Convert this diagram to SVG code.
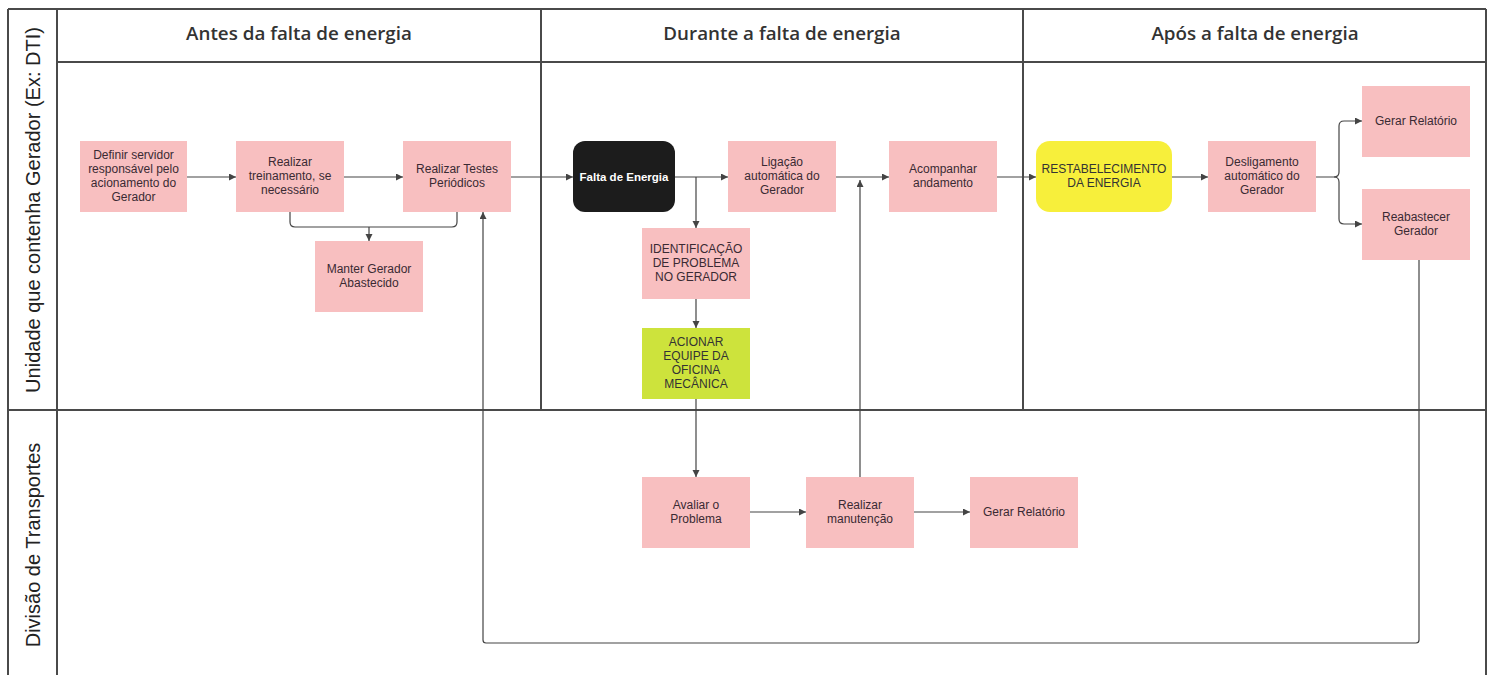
<svg xmlns="http://www.w3.org/2000/svg" width="1491" height="675" viewBox="0 0 1491 675">
<defs>
<style>
.lane{fill:none;stroke:#4a4a4a;stroke-width:2}
.hdr{font-family:"Open Sans","DejaVu Sans",sans-serif;font-weight:600;font-size:18.8px;fill:#333;text-anchor:middle}
.lbl{font-family:"Liberation Sans",Arial,sans-serif;font-size:20px;fill:#222;text-anchor:middle}
.pink{fill:#f8bfc0}
.t{font-family:"Liberation Sans",Arial,sans-serif;font-size:12px;fill:#3a2a33;text-anchor:middle}
.c{fill:none;stroke:#444;stroke-width:1.2}
</style>
<marker id="ah" markerUnits="userSpaceOnUse" markerWidth="8" markerHeight="8" refX="7" refY="3.5" orient="auto">
<path d="M0,0 L7,3.5 L0,7 z" fill="#444"/>
</marker>
</defs>
<rect width="1491" height="675" fill="#fff"/>

<g id="pool">
<line class="lane" x1="8" y1="9" x2="1486" y2="9"/>
<line class="lane" x1="8" y1="9" x2="8" y2="680"/>
<line class="lane" x1="57" y1="9" x2="57" y2="680"/>
<line class="lane" x1="1486" y1="9" x2="1486" y2="680"/>
<line class="lane" x1="57" y1="62" x2="1486" y2="62"/>
<line class="lane" x1="8" y1="410" x2="1486" y2="410"/>
<line class="lane" x1="541" y1="9" x2="541" y2="410"/>
<line class="lane" x1="1023" y1="9" x2="1023" y2="410"/>
<text class="hdr" x="299" y="40">Antes da falta de energia</text>
<text class="hdr" x="782" y="40">Durante a falta de energia</text>
<text class="hdr" x="1255" y="40">Após a falta de energia</text>
<text class="lbl" transform="translate(40,210) rotate(-90)">Unidade que contenha Gerador (Ex: DTI)</text>
<text class="lbl" transform="translate(40,545) rotate(-90)">Divisão de Transportes</text>
</g>

<g id="connectors">
<line class="c" x1="187" y1="177" x2="236" y2="177" marker-end="url(#ah)"/>
<line class="c" x1="344" y1="177" x2="403" y2="177" marker-end="url(#ah)"/>
<path class="c" d="M290,212 V222 Q290,227 295,227 H452 Q457,227 457,222 V212"/>
<line class="c" x1="369" y1="227" x2="369" y2="241" marker-end="url(#ah)"/>
<line class="c" x1="511" y1="177" x2="573" y2="177" marker-end="url(#ah)"/>
<line class="c" x1="675" y1="177" x2="728" y2="177" marker-end="url(#ah)"/>
<line class="c" x1="696" y1="177" x2="696" y2="228" marker-end="url(#ah)"/>
<line class="c" x1="696" y1="299" x2="696" y2="328" marker-end="url(#ah)"/>
<line class="c" x1="696" y1="399" x2="696" y2="477" marker-end="url(#ah)"/>
<line class="c" x1="750" y1="512" x2="806" y2="512" marker-end="url(#ah)"/>
<line class="c" x1="914" y1="512" x2="970" y2="512" marker-end="url(#ah)"/>
<line class="c" x1="860" y1="477" x2="860" y2="180" marker-end="url(#ah)"/>
<line class="c" x1="836" y1="177" x2="889" y2="177" marker-end="url(#ah)"/>
<line class="c" x1="997" y1="177" x2="1036" y2="177" marker-end="url(#ah)"/>
<line class="c" x1="1172" y1="177" x2="1208" y2="177" marker-end="url(#ah)"/>
<path class="c" d="M1316,177 H1334 Q1339,177 1339,172 V126 Q1339,121 1344,121 H1362" marker-end="url(#ah)"/>
<path class="c" d="M1334,177 Q1339,177 1339,182 V219 Q1339,224 1344,224 H1362" marker-end="url(#ah)"/>
<path class="c" d="M1419,260 V640 Q1419,643 1416,643 H486 Q483,643 483,640 V212" marker-end="url(#ah)"/>
</g>

<g id="n-definir"><rect class="pink" x="80" y="141" width="107" height="71"/>
<text class="t" x="133.5" y="159">Definir servidor</text><text class="t" x="133.5" y="173">responsável pelo</text><text class="t" x="133.5" y="187">acionamento do</text><text class="t" x="133.5" y="201">Gerador</text></g>
<g id="n-treinamento"><rect class="pink" x="236" y="141" width="108" height="71"/>
<text class="t" x="290" y="166">Realizar</text><text class="t" x="290" y="180">treinamento, se</text><text class="t" x="290" y="194">necessário</text></g>
<g id="n-testes"><rect class="pink" x="403" y="141" width="108" height="71"/>
<text class="t" x="457" y="173">Realizar Testes</text><text class="t" x="457" y="187">Periódicos</text></g>
<g id="n-manter"><rect class="pink" x="315" y="241" width="108" height="71"/>
<text class="t" x="369" y="273">Manter Gerador</text><text class="t" x="369" y="287">Abastecido</text></g>
<g id="n-falta"><rect x="573" y="141" width="102" height="71" rx="12" fill="#1c1c1c"/>
<text class="t" x="624" y="181" style="fill:#fff;font-weight:bold;font-size:11.5px">Falta de Energia</text></g>
<g id="n-ligacao"><rect class="pink" x="728" y="141" width="108" height="71"/>
<text class="t" x="782" y="166">Ligação</text><text class="t" x="782" y="180">automática do</text><text class="t" x="782" y="194">Gerador</text></g>
<g id="n-acompanhar"><rect class="pink" x="889" y="141" width="108" height="71"/>
<text class="t" x="943" y="173">Acompanhar</text><text class="t" x="943" y="187">andamento</text></g>
<g id="n-restab"><rect x="1036" y="141" width="136" height="71" rx="14" fill="#f7ef3b"/>
<text class="t" x="1104" y="173" style="fill:#333">RESTABELECIMENTO</text><text class="t" x="1104" y="187" style="fill:#333">DA ENERGIA</text></g>
<g id="n-desligamento"><rect class="pink" x="1208" y="141" width="108" height="71"/>
<text class="t" x="1262" y="166">Desligamento</text><text class="t" x="1262" y="180">automático do</text><text class="t" x="1262" y="194">Gerador</text></g>
<g id="n-relatorio1"><rect class="pink" x="1362" y="86" width="108" height="71"/>
<text class="t" x="1416" y="125">Gerar Relatório</text></g>
<g id="n-reabastecer"><rect class="pink" x="1362" y="189" width="108" height="71"/>
<text class="t" x="1416" y="221">Reabastecer</text><text class="t" x="1416" y="235">Gerador</text></g>
<g id="n-identificacao"><rect class="pink" x="642" y="228" width="108" height="71"/>
<text class="t" x="696" y="253">IDENTIFICAÇÃO</text><text class="t" x="696" y="267">DE PROBLEMA</text><text class="t" x="696" y="281">NO GERADOR</text></g>
<g id="n-acionar"><rect x="642" y="328" width="108" height="71" fill="#cde33c"/>
<text class="t" x="696" y="346" style="fill:#333">ACIONAR</text><text class="t" x="696" y="360" style="fill:#333">EQUIPE DA</text><text class="t" x="696" y="374" style="fill:#333">OFICINA</text><text class="t" x="696" y="388" style="fill:#333">MECÂNICA</text></g>
<g id="n-avaliar"><rect class="pink" x="642" y="477" width="108" height="71"/>
<text class="t" x="696" y="509">Avaliar o</text><text class="t" x="696" y="523">Problema</text></g>
<g id="n-manutencao"><rect class="pink" x="806" y="477" width="108" height="71"/>
<text class="t" x="860" y="509">Realizar</text><text class="t" x="860" y="523">manutenção</text></g>
<g id="n-relatorio2"><rect class="pink" x="970" y="477" width="108" height="71"/>
<text class="t" x="1024" y="516">Gerar Relatório</text></g>
</svg>
